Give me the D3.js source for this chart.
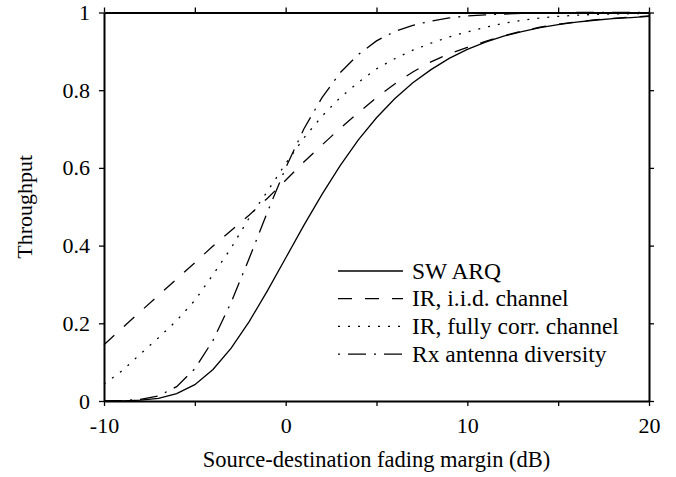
<!DOCTYPE html>
<html>
<head>
<meta charset="utf-8">
<script src="https://cdn.jsdelivr.net/npm/d3@7"></script>
<style>
  body { margin: 0; background: #fff; }
  svg { display: block; }
</style>
</head>
<body>
<div id="chart"></div>
<script>
// fading margin (dB) and throughput of each scheme
var fadingMargin = [-10, -9, -8, -7, -6, -5, -4, -3, -2, -1, 0, 1, 2, 3, 4, 5, 6, 7, 8, 9, 10,
                    11, 12, 13, 14, 15, 16, 17, 18, 19, 20];
var swArq  = [0.000, 0.000, 0.002, 0.007, 0.019, 0.042, 0.081, 0.136, 0.205, 0.284, 0.368,
              0.452, 0.532, 0.606, 0.672, 0.729, 0.778, 0.819, 0.853, 0.882, 0.905,
              0.924, 0.939, 0.951, 0.961, 0.969, 0.975, 0.980, 0.984, 0.987, 0.990];
var irIid  = [0.145, 0.188, 0.230, 0.272, 0.314, 0.356, 0.399, 0.439, 0.479, 0.522, 0.568,
              0.615, 0.659, 0.702, 0.742, 0.781, 0.816, 0.847, 0.873, 0.894, 0.910,
              0.926, 0.940, 0.952, 0.962, 0.970, 0.976, 0.981, 0.985, 0.988, 0.991];
var irCorr = [0.043, 0.078, 0.121, 0.163, 0.207, 0.259, 0.325, 0.394, 0.472, 0.540, 0.611,
              0.677, 0.733, 0.781, 0.820, 0.855, 0.881, 0.903, 0.921, 0.937, 0.950,
              0.962, 0.972, 0.980, 0.986, 0.990, 0.993, 0.995, 0.996, 0.997, 0.998];
var rxDiv  = [0.000, 0.001, 0.004, 0.013, 0.037, 0.083, 0.156, 0.254, 0.368, 0.487, 0.600,
              0.700, 0.781, 0.845, 0.892, 0.927, 0.951, 0.967, 0.978, 0.986, 0.991,
              0.994, 0.996, 0.998, 0.999, 0.999, 1.000, 1.000, 1.000, 1.000, 1.000];

var seriesNames = ["SW ARQ", "IR, i.i.d. channel", "IR, fully corr. channel", "Rx antenna diversity"];
var seriesValues = [swArq, irIid, irCorr, rxDiv];
var dashes = [null, "14,13", "2,8", "18,8,2,8"];

var xTicks = [-10, -5, 0, 5, 10, 15, 20];
var yTicks = [0, 0.2, 0.4, 0.6, 0.8, 1];

var fontFamily = "'Liberation Serif', 'Times New Roman', serif";

var margin = {top: 12.5, right: 27, bottom: 76, left: 104},
    width = 676 - margin.left - margin.right,
    height = 477 - margin.top - margin.bottom;

var svg = d3.select("#chart")
  .append("svg")
    .attr("width", 676)
    .attr("height", 477)
  .append("g")
    .attr("transform", "translate(" + margin.left + "," + margin.top + ")");

var x = d3.scaleLinear().domain([-10, 20]).range([0, width]);
var y = d3.scaleLinear().domain([0, 1]).range([height, 0]);

// axes on all four sides, ticks pointing out
function styleAxis(g) {
  g.select(".domain").attr("stroke-width", 2);
  g.selectAll(".tick line").attr("stroke-width", 1.3);
  g.selectAll("text")
    .attr("font-family", fontFamily)
    .attr("font-size", 22)
    .attr("fill", "#000");
}

svg.append("g")
    .attr("transform", "translate(0," + height + ")")
    .call(d3.axisBottom(x).tickValues(xTicks).tickSize(5).tickSizeOuter(0).tickPadding(11)
      .tickFormat(function(d) { return d % 10 === 0 ? d : ""; }))
    .call(styleAxis);

svg.append("g")
    .call(d3.axisTop(x).tickValues(xTicks).tickSize(5).tickSizeOuter(0).tickFormat(""))
    .call(styleAxis);

svg.append("g")
    .call(d3.axisLeft(y).tickValues(yTicks).tickSize(5).tickSizeOuter(0).tickPadding(9)
      .tickFormat(function(d) { return d3.format("")(+d.toFixed(1)); }))
    .call(styleAxis);

svg.append("g")
    .attr("transform", "translate(" + width + ",0)")
    .call(d3.axisRight(y).tickValues(yTicks).tickSize(5).tickSizeOuter(0).tickFormat(""))
    .call(styleAxis);

// curves
var line = d3.line()
  .x(function(d, i) { return x(fadingMargin[i]); })
  .y(function(d) { return y(d); });

svg.selectAll(".curve")
  .data(seriesValues)
  .enter()
  .append("path")
    .attr("class", "curve")
    .attr("d", line)
    .attr("fill", "none")
    .attr("stroke", "#000")
    .attr("stroke-width", 1.3)
    .attr("stroke-dasharray", function(d, i) { return dashes[i]; });

// axis titles
svg.append("text")
    .attr("x", width / 2)
    .attr("y", height + 66)
    .attr("text-anchor", "middle")
    .attr("font-family", fontFamily)
    .attr("font-size", 22.5)
    .text("Source-destination fading margin (dB)");

svg.append("text")
    .attr("transform", "translate(" + (32 - margin.left) + "," + (height / 2) + ") rotate(-90)")
    .attr("text-anchor", "middle")
    .attr("font-family", fontFamily)
    .attr("font-size", 22)
    .text("Throughput");

// legend
var legend = svg.append("g")
    .attr("transform", "translate(" + (338 - margin.left) + "," + (271 - margin.top) + ")");

var rows = legend.selectAll(".row")
  .data(seriesNames)
  .enter()
  .append("g")
    .attr("transform", function(d, i) { return "translate(0," + (i * 27.7) + ")"; });

rows.append("line")
    .attr("x1", 0)
    .attr("x2", 65)
    .attr("stroke", "#000")
    .attr("stroke-width", 1.3)
    .attr("stroke-dasharray", function(d, i) { return dashes[i]; })
    .attr("stroke-dashoffset", function(d, i) { return i === 3 ? 26 : 0; });

rows.append("text")
    .attr("x", 74)
    .attr("y", 7.5)
    .attr("font-family", fontFamily)
    .attr("font-size", 23.5)
    .text(function(d) { return d; });
</script>
</body>
</html>
